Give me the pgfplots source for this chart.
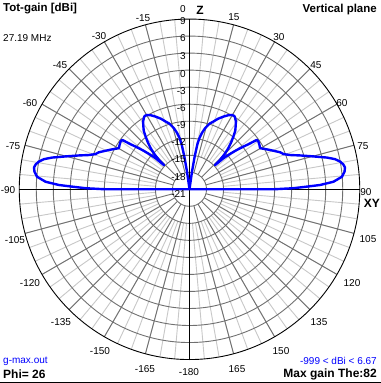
\documentclass[border=0pt]{standalone}
\usepackage{pgfplots}
\pgfplotsset{compat=1.18}
\usepackage{pgfplotstable}
\usepackage{fontspec}
\setmainfont{Liberation Sans}
\definecolor{lightg}{RGB}{200,200,200}
\definecolor{darkg}{RGB}{112,112,112}
\definecolor{mmblue}{RGB}{0,0,255}

\pgfplotstableread{
theta gain
-91 -21
-90 -6.2
-89.4 -2.68
-88.7 -0.32
-88.1 2.05
-87 4.4
-85.3 5.95
-83.5 6.5
-82 6.67
-80.8 6.45
-79.6 6.0
-78.3 5.2
-77 3.85
-75.1 1.55
-73 -0.6
-71.2 -2.26
-69.5 -3.3
-67.8 -3.74
-64 -5.2
-62 -5.9
-59.8 -6.6
-57.5 -6.4
-55.3 -6.23
-53.7 -6.3
-52.6 -7.94
-51.5 -9.0
-50.2 -10.2
-49 -11.4
-47.5 -12.9
-46.6 -14.8
-46.1 -13.5
-45 -12.3
-43.4 -11.05
-41.7 -10.0
-39.8 -8.93
-38 -7.9
-35.7 -7.03
-34.3 -6.5
-32.7 -6.1
-31.5 -5.85
-29.6 -5.93
-27.5 -6.3
-25 -6.87
-22 -7.6
-19.4 -8.35
-17 -8.9
-14.3 -9.9
-12.5 -10.8
-11 -11.8
-10 -12.8
-9 -15.0
-8 -17.9
0 -21
8 -17.9
9 -15.0
10 -12.8
11 -11.8
12.5 -10.8
14.3 -9.9
17 -8.9
19.4 -8.35
22 -7.6
25 -6.87
27.5 -6.3
29.6 -5.93
31.5 -5.85
32.7 -6.1
34.3 -6.5
35.7 -7.03
38 -7.9
39.8 -8.93
41.7 -10.0
43.4 -11.05
45 -12.3
46.1 -13.5
46.6 -14.8
47.5 -12.9
49 -11.4
50.2 -10.2
51.5 -9.0
52.6 -7.94
53.7 -6.3
55.3 -6.23
57.5 -6.4
59.8 -6.6
62 -5.9
64 -5.2
67.8 -3.74
69.5 -3.3
71.2 -2.26
73 -0.6
75.1 1.55
77 3.85
78.3 5.2
79.6 6.0
80.8 6.45
82 6.67
83.5 6.5
85.3 5.95
87 4.4
88.1 2.05
88.7 -0.32
89.4 -2.68
90 -6.2
91 -21
}\patterndata

\begin{document}
\begin{tikzpicture}
\path[fill=white,use as bounding box] (-189.5bp,-193.7bp) rectangle (191.5bp,189.3bp);
% polar grid (units: 1 = 1 dB, centre = -21 dBi)
\begin{scope}[x=5.675bp,y=5.675bp]
  \foreach \a in {0,5,...,355} {\draw[lightg, line width=0.9bp] (\a:6) -- (\a:30);}
  \foreach \a in {0,15,...,345} {\draw[darkg, line width=0.9bp] (\a:3) -- (\a:30);}
  \foreach \r in {3,6,...,27} {\draw[darkg, line width=0.9bp] (0,0) circle[radius=\r];}
  \draw[black, line width=0.9bp] (-30,0) -- (30,0);
  \draw[black, line width=0.9bp] (0,-30) -- (0,30);
  \draw[black, line width=0.9bp] (0,0) circle[radius=30];
\end{scope}
\begin{axis}[at={(0,0)}, anchor=origin, x=5.675bp, y=5.675bp,
  xmin=-30, xmax=30, ymin=-30, ymax=30, hide axis, clip=false]
\addplot[color=mmblue, line width=2.4bp, line join=round, mark=none, data cs=polar]
  table[x expr={90-\thisrow{theta}}, y expr={\thisrow{gain}+21}] {\patterndata};
\end{axis}
% texts, in pixel coordinates of the reference
\begin{scope}[shift={(-189.5bp,189.3bp)}, x=1bp, y=-1bp,
  every node/.style={inner sep=0pt, font=\fontsize{10bp}{12bp}\selectfont}]
  \node[anchor=west, font=\bfseries\fontsize{11.5bp}{13bp}\selectfont] at (3,9) {Tot-gain [dBi]};
  \node[anchor=west] at (3,38) {27.19 MHz};
  \node[anchor=east, font=\bfseries\fontsize{11.5bp}{13bp}\selectfont] at (377,10) {Vertical plane};
  \node[anchor=west, text=mmblue] at (3,361) {g-max.out};
  \node[anchor=west, font=\bfseries\fontsize{12bp}{14bp}\selectfont] at (3,374) {Phi= 26};
  \node[anchor=east, text=mmblue] at (377,361) {-999 < dBi < 6.67};
  \node[anchor=east, font=\bfseries\fontsize{12bp}{14bp}\selectfont] at (377,374) {Max gain The:82};
  % angle labels
  \node at (183,9.5) {0};
  \node[font=\bfseries\fontsize{12bp}{14bp}\selectfont] at (200,10) {Z};
  \node at (234,17) {15};
  \node at (279,37) {30};
  \node at (316,65) {45};
  \node at (342,103) {60};
  \node at (363,146) {75};
  \node at (366,192) {90};
  \node[font=\bfseries\fontsize{12bp}{14bp}\selectfont] at (372,203) {XY};
  \node at (368,239) {105};
  \node at (352,283) {120};
  \node at (319,322) {135};
  \node at (281,351) {150};
  \node at (237,369) {165};
  \node at (189,372) {-180};
  \node at (145,369) {-165};
  \node at (100,351) {-150};
  \node at (61,322) {-135};
  \node at (30,283) {-120};
  \node at (15,240) {-105};
  \node at (8,190) {-90};
  \node at (13,146) {-75};
  \node at (30,103) {-60};
  \node at (60,65) {-45};
  \node at (99,36) {-30};
  \node at (143,18) {-15};
  % dB labels
  \foreach \v/\y in {9/21,6/38,3/56,0/74,-3/91,-6/108,-9/125,-12/142,-15/159,-18/177,-21/194}
    {\node[anchor=east] at (186,\y) {\v};}
  \draw[black, line width=1bp] (0,382.5) -- (381,382.5);
\end{scope}
\end{tikzpicture}
\end{document}
